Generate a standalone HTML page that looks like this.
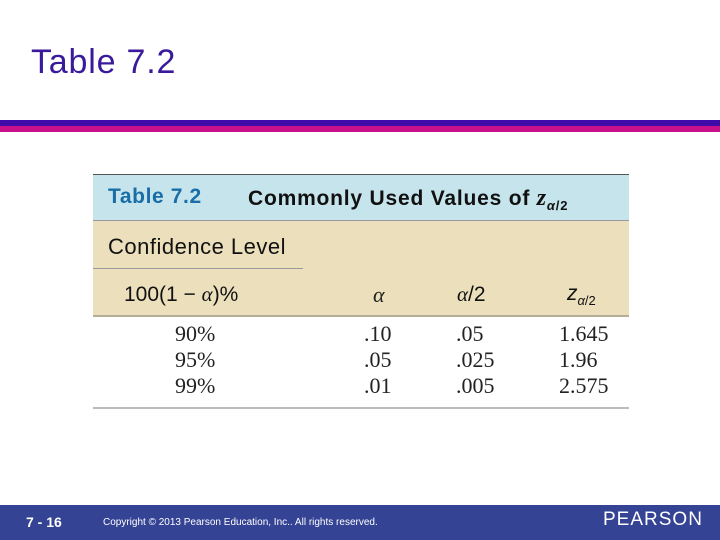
<!DOCTYPE html>
<html><head><meta charset="utf-8"><style>
body{margin:0;width:720px;height:540px;position:relative;background:#fff;font-family:"Liberation Sans",sans-serif;overflow:hidden}
.a{position:absolute}
.s{font-family:"Liberation Serif",serif;font-size:22px;color:#222}
</style></head><body>
<div class="a" style="left:31px;top:43px;font-size:34px;letter-spacing:0.8px;color:#3a1a9a">Table 7.2</div>
<div class="a" style="left:0;top:120px;width:720px;height:6px;background:#3f0aa8"></div>
<div class="a" style="left:0;top:126px;width:720px;height:6px;background:#c8108a"></div>

<div class="a" style="left:93px;top:174px;width:536px;height:235px">
 <div class="a" style="left:0;top:0;width:536px;height:47px;background:#c6e4ec;border-top:1px solid #555;box-sizing:border-box;border-bottom:1px solid #999"></div>
 <div class="a" style="left:15px;top:11px;font-size:21px;letter-spacing:0.6px;font-weight:bold;color:#1a6ea8">Table 7.2</div>
 <div class="a" style="left:155px;top:11px;font-size:21px;letter-spacing:0.8px;font-weight:bold;color:#111">Commonly Used Values of <i style="font-family:'Liberation Serif',serif;font-size:24px">z</i><sub style="font-size:13px"><i>α</i>/2</sub></div>
 <div class="a" style="left:0;top:47px;width:536px;height:96px;background:#ece0bc;border-bottom:2px solid #b5ad95;box-sizing:border-box"></div>
 <div class="a" style="left:15px;top:60px;font-size:22px;letter-spacing:0.5px;color:#111">Confidence Level</div>
 <div class="a" style="left:0;top:94px;width:210px;height:1px;background:#999"></div>
 <div class="a" style="left:31px;top:108px;font-size:21px;color:#111">100(1 − <i style="font-family:'Liberation Serif',serif">α</i>)%</div>
 <div class="a s" style="left:280px;top:108px"><i>α</i></div>
 <div class="a" style="left:364px;top:108px;font-size:21px;color:#111"><i style="font-family:'Liberation Serif',serif">α</i>/2</div>
 <div class="a" style="left:474px;top:108px;font-size:21px;color:#111"><i>z</i><sub style="font-size:13px"><i>α</i>/2</sub></div>
 <div class="a s" style="left:82px;top:147px;line-height:26px">90%<br>95%<br>99%</div>
 <div class="a s" style="left:271px;top:147px;line-height:26px">.10<br>.05<br>.01</div>
 <div class="a s" style="left:363px;top:147px;line-height:26px">.05<br>.025<br>.005</div>
 <div class="a s" style="left:466px;top:147px;line-height:26px">1.645<br>1.96<br>2.575</div>
 <div class="a" style="left:0;top:233px;width:536px;height:2px;background:#bbb"></div>
</div>

<div class="a" style="left:0;top:505px;width:720px;height:35px;background:#344394"></div>
<div class="a" style="left:26px;top:514px;font-size:14px;font-weight:bold;color:#fff">7 - 16</div>
<div class="a" style="left:103px;top:517px;font-size:10px;color:#fff">Copyright © 2013 Pearson Education, Inc.. All rights reserved.</div>
<div class="a" style="left:603px;top:509px;font-size:19px;color:#fff;letter-spacing:1px">PEARSON</div>
</body></html>
